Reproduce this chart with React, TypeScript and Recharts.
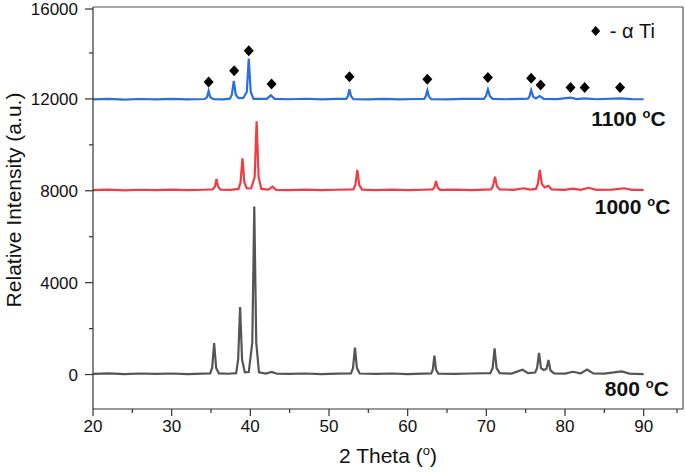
import React from 'react'
import {
  ComposedChart,
  Line,
  Scatter,
  XAxis,
  YAxis,
  ReferenceDot,
  ReferenceLine
} from 'recharts'

// [2θ (deg), intensity (a.u.)]
const pattern800: [number, number][] = [
  [20, 30], [22, 50], [24, 20], [26, 45], [28, 25], [30, 45], [32, 20], [34, 40],
  [34.9, 50], [35.15, 300], [35.4, 1370], [35.65, 300], [36.0, 50], [37.2, 35],
  [38.2, 60], [38.45, 650], [38.7, 2940], [38.95, 650], [39.3, 100], [39.8, 110],
  [40.25, 1400], [40.5, 7310], [40.75, 1400], [41.1, 100], [42.0, 40], [42.7, 110],
  [43.4, 35], [45, 25], [47, 45], [49, 20], [51, 40], [52.8, 50], [53.05, 280],
  [53.3, 1170], [53.55, 280], [53.9, 45], [56, 25], [58, 45], [60, 20], [62, 40],
  [63.0, 50], [63.2, 220], [63.4, 820], [63.6, 220], [63.9, 40], [66, 30], [68, 45],
  [70.5, 60], [70.8, 280], [71.05, 1140], [71.3, 280], [71.7, 60], [73.2, 40],
  [74.6, 210], [75.3, 60], [76.2, 90], [76.45, 280], [76.7, 940], [76.95, 280],
  [77.3, 200], [77.65, 250], [77.9, 630], [78.15, 180], [78.6, 50], [80, 40],
  [81.0, 120], [82.0, 50], [82.8, 220], [83.6, 50], [85, 40], [87.2, 140], [88.2, 40],
  [90, 20]
]

const pattern1000: [number, number][] = [
  [20, 8030], [22, 8050], [24, 8020], [26, 8045], [28, 8025], [30, 8050], [32, 8030],
  [34, 8045], [35.2, 8060], [35.5, 8180], [35.7, 8510], [35.9, 8180], [36.2, 8050],
  [37.5, 8040], [38.5, 8080], [38.75, 8350], [39.0, 9410], [39.25, 8350], [39.55, 8110],
  [40.1, 8100], [40.55, 8600], [40.8, 11020], [41.05, 8600], [41.4, 8080], [42.3, 8050],
  [42.8, 8180], [43.3, 8040], [45, 8030], [47, 8050], [49, 8025], [51, 8045],
  [53.1, 8060], [53.35, 8250], [53.6, 8905], [53.85, 8250], [54.2, 8050], [56, 8030],
  [58, 8050], [60, 8030], [62, 8045], [63.2, 8060], [63.4, 8150], [63.6, 8420],
  [63.8, 8150], [64.1, 8040], [66, 8050], [68, 8030], [70.6, 8060], [70.85, 8200],
  [71.1, 8610], [71.35, 8200], [71.7, 8060], [73.5, 8040], [74.7, 8110], [75.6, 8050],
  [76.3, 8080], [76.55, 8300], [76.8, 8905], [77.05, 8300], [77.4, 8150], [77.9, 8220],
  [78.3, 8060], [80, 8040], [81.0, 8090], [82, 8040], [83.0, 8130], [84, 8040],
  [86, 8050], [87.5, 8110], [88.5, 8040], [90, 8040]
]

const pattern1100: [number, number][] = [
  [20, 11980], [22, 12000], [24, 11970], [26, 11995], [28, 11975], [30, 12000],
  [32, 11980], [34.2, 11995], [34.5, 12080], [34.7, 12345], [34.9, 12080], [35.3, 11990],
  [36.5, 11980], [37.4, 12010], [37.65, 12180], [37.9, 12780], [38.15, 12180],
  [38.5, 12030], [39.1, 12040], [39.55, 12300], [39.8, 13760], [40.05, 12300],
  [40.4, 12000], [42.1, 12000], [42.6, 12155], [43.1, 12000], [45, 11985], [47, 12005],
  [49, 11975], [51, 12000], [52.2, 12000], [52.4, 12120], [52.6, 12417], [52.8, 12120],
  [53.1, 11990], [55, 11980], [57, 12000], [59, 11975], [61, 11995], [62.1, 12000],
  [62.3, 12110], [62.5, 12370], [62.7, 12110], [63.0, 11990], [65, 11980], [67, 12000],
  [69.7, 12000], [69.95, 12120], [70.2, 12410], [70.45, 12120], [70.8, 12000],
  [72.5, 11985], [74.5, 12000], [75.3, 12010], [75.5, 12120], [75.7, 12374],
  [75.95, 12100], [76.3, 12020], [76.8, 12126], [77.3, 12000], [79, 11990],
  [80.7, 12053], [81.5, 11990], [82.5, 12020], [84, 11985], [87.0, 12020],
  [88.5, 11990], [90, 11985]
]

// α-Ti reflection markers above the 1100 °C pattern
const alphaTiMarks: [number, number][] = [
  [34.7, 12740], [37.95, 13220], [39.8, 14100], [42.7, 12650], [52.6, 12960],
  [62.5, 12860], [70.2, 12930], [75.7, 12900], [76.9, 12600], [80.7, 12500],
  [82.5, 12500], [87.0, 12500]
]

const xTicks = [20, 25, 30, 35, 40, 45, 50, 55, 60, 65, 70, 75, 80, 85, 90, 95]
const yTicks = [0, 2000, 4000, 6000, 8000, 10000, 12000, 14000, 16000]

const toPoints = (arr: [number, number][]) => arr.map(([x, y]) => ({ x, y }))

const FONT = "'Liberation Sans', Arial, sans-serif"
const AXIS = '#333333'

const YTick = ({ x, y, payload }: any) => {
  const major = payload.value % 4000 === 0
  return (
    <g>
      <line x1={x} x2={x - (major ? 8 : 4)} y1={y} y2={y} stroke={AXIS} strokeWidth={1.2} />
      {major && (
        <text x={x - 15} y={y} dy={6} textAnchor="end" fontSize={17} fill="#111" fontFamily={FONT}>
          {payload.value}
        </text>
      )}
    </g>
  )
}

const XTick = ({ x, y, payload }: any) => {
  const major = payload.value % 10 === 0
  return (
    <g>
      <line x1={x} x2={x} y1={y} y2={y + (major ? 7 : 4)} stroke={AXIS} strokeWidth={1.2} />
      {major && payload.value < 95 && (
        <text x={x} y={y + 23} textAnchor="middle" fontSize={17} fill="#111" fontFamily={FONT}>
          {payload.value}
        </text>
      )}
    </g>
  )
}

const Diamond = ({ cx, cy }: any) => (
  <path d={`M${cx},${cy - 5.5}L${cx + 5},${cy}L${cx},${cy + 5.5}L${cx - 5},${cy}Z`} fill="#000" />
)

const tempLabel = (temp: string) => ({ cx, cy }: any) => (
  <text x={cx} y={cy} textAnchor="end" fontSize={21} fontWeight="bold" fill="#111" fontFamily={FONT}>
    {temp + ' '}
    <tspan fontSize={13} dy={-8}>o</tspan>
    <tspan dy={8}>C</tspan>
  </text>
)

const legendMark = ({ cx, cy }: any) => (
  <g>
    <path d={`M${cx},${cy - 5}L${cx + 4.5},${cy}L${cx},${cy + 5}L${cx - 4.5},${cy}Z`} fill="#000" />
    <text x={cx + 14} y={cy + 7} fontSize={20} fill="#111" fontFamily={FONT}>
      - α Ti
    </text>
  </g>
)

export default function App() {
  return (
    <div style={{ position: 'absolute', left: 0, top: 0, background: '#fff' }}>
      <ComposedChart width={685} height={472} margin={{ top: 7, right: 2, left: 0, bottom: 0 }}>
        <XAxis
          type="number"
          dataKey="x"
          domain={[20, 95]}
          ticks={xTicks}
          allowDataOverflow
          height={63}
          tickSize={0}
          tickMargin={0}
          tick={<XTick />}
          axisLine={{ stroke: AXIS, strokeWidth: 1.2 }}
          label={({ viewBox }: any) => (
            <text x={viewBox.x + viewBox.width / 2} y={463} textAnchor="middle" fontSize={21} fill="#111" fontFamily={FONT}>
              2 Theta (<tspan fontSize={13} dy={-8}>o</tspan><tspan dy={8}>)</tspan>
            </text>
          )}
        />
        <YAxis
          type="number"
          dataKey="y"
          domain={[-1500, 16000]}
          ticks={yTicks}
          allowDataOverflow
          width={93}
          tickSize={0}
          tickMargin={0}
          tick={<YTick />}
          axisLine={{ stroke: AXIS, strokeWidth: 1.2 }}
          label={({ viewBox }: any) => (
            <text
              transform={`translate(21, ${viewBox.y + viewBox.height / 2 - 8}) rotate(-90)`}
              textAnchor="middle"
              fontSize={21}
              fill="#111"
              fontFamily={FONT}
            >
              Relative Intensity (a.u.)
            </text>
          )}
        />
        <ReferenceLine y={16000} stroke="#555" strokeWidth={1.2} />
        <ReferenceLine x={95} stroke="#555" strokeWidth={1.2} />

        <Line data={toPoints(pattern800)} dataKey="y" type="linear" stroke="#555555" strokeWidth={2.2} dot={false} activeDot={false} isAnimationActive={false} />
        <Line data={toPoints(pattern1000)} dataKey="y" type="linear" stroke="#f23b42" strokeWidth={2.2} dot={false} activeDot={false} isAnimationActive={false} />
        <Line data={toPoints(pattern1100)} dataKey="y" type="linear" stroke="#2a6fdc" strokeWidth={2.2} dot={false} activeDot={false} isAnimationActive={false} />
        <Scatter data={toPoints(alphaTiMarks)} dataKey="y" shape={<Diamond />} isAnimationActive={false} />

        <ReferenceDot x={92.8} y={10830} r={0} shape={tempLabel('1100')} />
        <ReferenceDot x={93.4} y={7000} r={0} shape={tempLabel('1000')} />
        <ReferenceDot x={93.2} y={-919} r={0} shape={tempLabel('800')} />
        <ReferenceDot x={83.9} y={14960} r={0} shape={legendMark} />
      </ComposedChart>
    </div>
  )
}
